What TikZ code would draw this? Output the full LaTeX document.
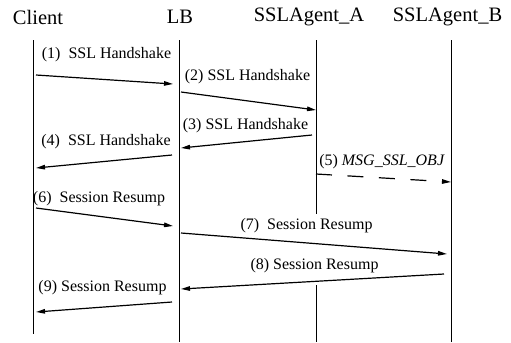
\documentclass[tikz,border=0pt]{standalone}
\usepackage{fontspec}
\setmainfont{Liberation Serif}
\usetikzlibrary{arrows.meta}
\begin{document}
\begin{tikzpicture}[x=1bp,y=-1bp,
  header/.style={inner sep=0pt,font=\fontsize{20.5bp}{22bp}\selectfont},
  msglabel/.style={inner sep=0pt,font=\fontsize{16bp}{18bp}\selectfont},
  lifeline/.style={line width=1bp},
  msg/.style={line width=1.2bp,-{Triangle[length=9bp,width=4.5bp]}},
  async/.style={msg,dash pattern=on 16bp off 15.5bp}]
\useasboundingbox (0,0) rectangle (511,342);

% participants
\node[header] (client) at (38,17) {Client};
\node[header] (lb) at (180,17) {LB};
\node[header] (ska) at (309,17) {SSLAgent\_A};
\node[header] (skb) at (447.5,17) {SSLAgent\_B};

% lifelines
\coordinate (cT) at (33,40);  \coordinate (cB) at (33,334);
\coordinate (lT) at (179,40); \coordinate (lB) at (179,342);
\coordinate (aT) at (316,40); \coordinate (aM) at (316,214);
\coordinate (aR) at (316,285); \coordinate (aB) at (316,342);
\coordinate (bT) at (451,40); \coordinate (bB) at (451,342);
\draw[lifeline] (cT) -- (cB);
\draw[lifeline] (lT) -- (lB);
\draw[lifeline] (aT) -- (aM);
\draw[lifeline] (aR) -- (aB);
\draw[lifeline] (bT) -- (bB);

% message end points
\coordinate (m1s) at (36,75);   \coordinate (m1e) at (173,84);
\coordinate (m2s) at (181,92);  \coordinate (m2e) at (316,110);
\coordinate (m3s) at (312,135); \coordinate (m3e) at (181,148);
\coordinate (m4s) at (172,155); \coordinate (m4e) at (36,168);
\coordinate (m5s) at (316,174); \coordinate (m5e) at (451,182);
\coordinate (m6s) at (36,208);  \coordinate (m6e) at (173,226);
\coordinate (m7s) at (181,233); \coordinate (m7e) at (447,254);
\coordinate (m8s) at (444,274); \coordinate (m8e) at (181,289);
\coordinate (m9s) at (172,302); \coordinate (m9e) at (36,312);

% messages
\draw[msg] (m1s) -- (m1e);
\draw[msg] (m2s) -- (m2e);
\draw[msg] (m3s) -- (m3e);
\draw[msg] (m4s) -- (m4e);
\draw[async] (m5s) -- (m5e);
\draw[msg] (m6s) -- (m6e);
\draw[msg] (m7s) -- (m7e);
\draw[msg] (m8s) -- (m8e);
\draw[msg] (m9s) -- (m9e);

% message labels
\node[msglabel] (t1) at (106.5,55) {(1)\ \ SSL Handshake};
\node[msglabel] (t2) at (247.5,77) {(2) SSL Handshake};
\node[msglabel] (t3) at (245.5,126) {(3) SSL Handshake};
\node[msglabel] (t4) at (106,142) {(4)\ \ SSL Handshake};
\node[msglabel] (t5) at (382,162) {(5) \textit{MSG\_SSL\_OBJ}};
\node[msglabel] (t6) at (99,199) {(6)\ \ Session Resump};
\node[msglabel] (t7) at (306.5,226) {(7)\ \ Session Resump};
\node[msglabel] (t8) at (314.5,266) {(8) Session Resump};
\node[msglabel] (t9) at (102.5,288) {(9) Session Resump};
\end{tikzpicture}
\end{document}
